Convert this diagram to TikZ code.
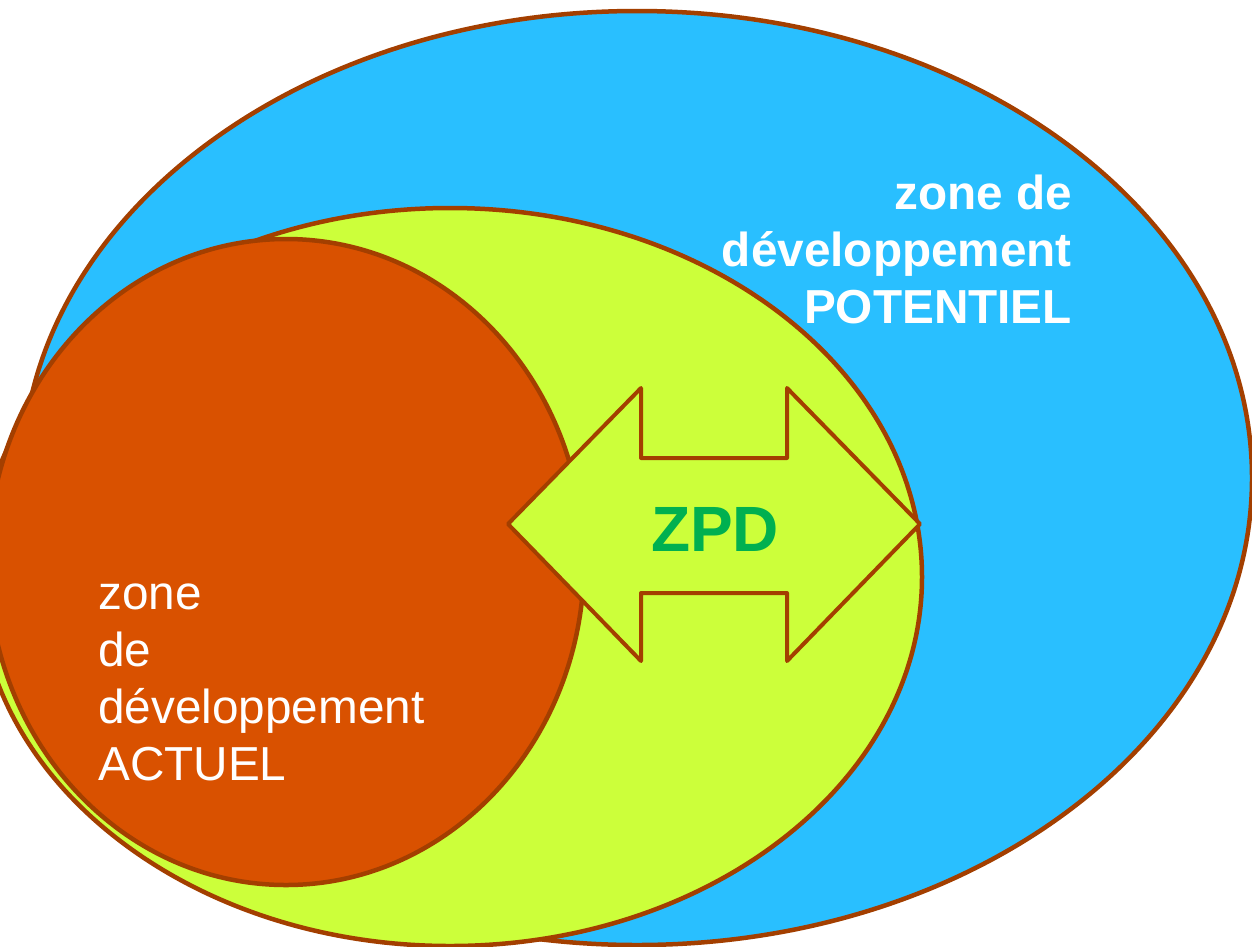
\documentclass[tikz,border=0pt]{standalone}
\usepackage{fontspec}
\setmainfont{Liberation Sans}
\definecolor{zblue}{RGB}{41,191,255}
\definecolor{zlime}{RGB}{204,255,58}
\definecolor{zorange}{RGB}{217,81,0}
\definecolor{zbrown}{RGB}{163,63,0}
\definecolor{zgreen}{RGB}{0,176,80}
\tikzset{
  zone/.style={draw=zbrown,line width=4.5pt},
  zarrow/.style={draw=zbrown,fill=zlime,line width=4pt,line join=round},
  whitetext/.style={text=white,inner sep=0pt,font=\fontsize{47.7}{57}\selectfont},
}
\begin{document}
\begin{tikzpicture}[x=1pt,y=-1pt]
\useasboundingbox (0,0) rectangle (1252,946);
\clip (0,0) rectangle (1252,946);
\fill[white] (0,0) rectangle (1252,946);
\path[zone,fill=zblue] (637,478) ellipse [x radius=615, y radius=467];
\path[zone,fill=zlime] (450,577) ellipse [x radius=472, y radius=369];
\path[zone,fill=zorange] (286,562) ellipse [x radius=298, y radius=323];
\coordinate (lt) at (508,524);
\coordinate (rt) at (920,524);
\path[zarrow] (lt) -- (641,388) -- (641,458) -- (787,458) -- (787,388) -- (rt)
  -- (787,661) -- (787,593) -- (641,593) -- (641,661) -- cycle;
\node[text=zgreen,font=\fontsize{64}{64}\selectfont\bfseries,inner sep=0pt] (zpd) at (715,529) {ZPD};
\node[whitetext,font=\fontsize{47.7}{57}\selectfont\bfseries,align=right,anchor=north east] (pot) at (1072,175)
  {zone de\\développement\\POTENTIEL};
\node[whitetext,align=left,anchor=north west] (act) at (98,584)
  {zone\\de\\développement\\ACTUEL};
\end{tikzpicture}
\end{document}
